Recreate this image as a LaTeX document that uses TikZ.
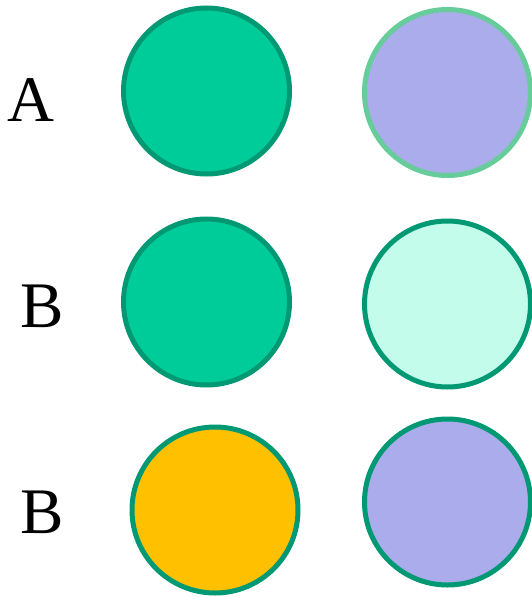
\documentclass[tikz,border=0pt]{standalone}
\usepackage{fontspec}
\setmainfont{Liberation Serif}
\definecolor{mint}{RGB}{0,204,153}
\definecolor{deepgreen}{RGB}{0,153,115}
\definecolor{palegreen}{RGB}{102,204,153}
\definecolor{lavender}{RGB}{170,172,235}
\definecolor{icemint}{RGB}{196,252,236}
\definecolor{amber}{RGB}{255,192,0}
\begin{document}
\begin{tikzpicture}[x=1pt, y=-1pt,
  ball/.style={circle, inner sep=0pt, minimum size=166pt, line width=5pt},
  letter/.style={anchor=base, inner sep=0pt, font=\fontsize{65}{65}\selectfont}]

  \useasboundingbox (0,0) rectangle (532,597);

  % row A
  \node[letter] (labA) at (31,121) {A};
  \node[ball, fill=mint, draw=deepgreen] (leftA) at (206.5,91) {};
  \node[ball, fill=lavender, draw=palegreen] (rightA) at (447.5,92.5) {};

  % row B
  \node[letter] (labB) at (42,327) {B};
  \node[ball, fill=mint, draw=deepgreen] (leftB) at (206.5,302) {};
  \node[ball, fill=icemint, draw=deepgreen] (rightB) at (447.5,304) {};

  % row B, second
  \node[letter] (labC) at (42,533) {B};
  \node[ball, fill=amber, draw=deepgreen] (leftC) at (215,510) {};
  \node[ball, fill=lavender, draw=deepgreen] (rightC) at (447.5,502) {};

\end{tikzpicture}
\end{document}
